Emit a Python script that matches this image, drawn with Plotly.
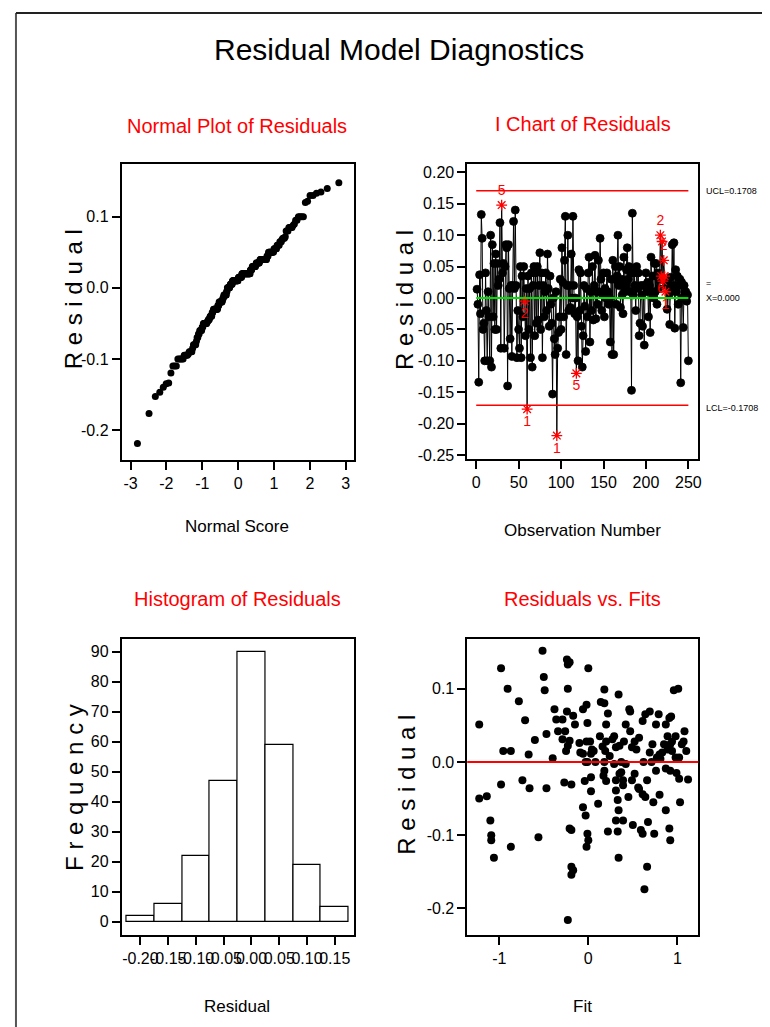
import plotly.graph_objects as go
from statistics import NormalDist

W, H = 770, 1027

# ---------------- data ----------------
# I-chart residuals in observation order
residuals = [
    0.014, -0.01, -0.134, 0.037, -0.025, 0.133, 0.095, -0.05, -0.04, -0.10,
    0.04, -0.02, -0.10, 0.01, -0.03, -0.10, 0.10, -0.11, 0.085, -0.03,
    0.055, -0.05, 0.07, -0.05, 0.055, 0.02, 0.03, 0.12, -0.08, 0.148,
    0.04, 0.055, -0.08, 0.05, 0.085, 0.08, -0.14, 0.085, 0.015, -0.065,
    0.02, -0.093, 0.02, 0.122, 0.015, 0.14, 0.02, -0.095, -0.02, -0.05,
    -0.08, 0.05, -0.095, 0.035, -0.03, 0.05, -0.005, -0.06, 0.015, -0.177,
    0.035, -0.05, 0.015, -0.095, 0.04, -0.11, 0.02, 0.05, -0.06, 0.04,
    -0.04, 0.05, -0.035, 0.02, 0.072, -0.05, 0.04, -0.095, 0.02, -0.03,
    0.01, 0.04, -0.02, 0.07, 0.015, -0.045, 0.035, -0.01, -0.04, -0.153,
    0.0, -0.065, -0.09, 0.01, -0.219, -0.08, -0.055, -0.03, 0.03, -0.05,
    0.08, 0.025, -0.03, 0.06, 0.13, -0.09, 0.02, 0.10, -0.02, 0.02,
    -0.015, 0.07, 0.0, 0.13, 0.02, -0.025, 0.0, -0.12, -0.03, -0.10,
    0.045, -0.02, 0.04, -0.045, -0.11, -0.06, 0.02, -0.013, -0.085, 0.015,
    -0.03, 0.04, 0.065, -0.07, 0.01, -0.02, 0.05, -0.035, 0.02, 0.068,
    -0.033, 0.01, -0.01, 0.06, 0.01, 0.095, 0.03, -0.02, 0.005, 0.04,
    -0.03, 0.015, 0.0, 0.04, 0.01, -0.01, 0.0, -0.07, 0.03, -0.09,
    0.06, -0.09, 0.03, 0.05, -0.01, 0.035, 0.10, 0.02, 0.05, -0.015,
    0.03, 0.005, -0.025, 0.065, 0.01, 0.02, 0.045, 0.08, 0.03, 0.05,
    0.01, 0.04, -0.147, 0.135, 0.005, 0.04, 0.02, -0.02, 0.05, 0.015,
    0.04, -0.06, -0.04, 0.02, 0.005, -0.045, 0.02, -0.075, 0.02, 0.04,
    0.01, 0.025, -0.03, 0.02, -0.055, 0.065, 0.01, 0.035, 0.0, 0.055,
    0.01, 0.055, -0.01, 0.04, 0.015, 0.03, 0.10, 0.035, 0.09, 0.027,
    0.06, 0.035, 0.01, 0.02, -0.018, 0.025, 0.005, -0.042, 0.033, 0.01,
    0.085, 0.02, 0.088, -0.048, 0.045, 0.01, 0.035, -0.01, 0.02, 0.03,
    -0.135, 0.025, 0.0, -0.047, 0.02, 0.003, 0.01, -0.005, 0.005, -0.10,
]
obs_numbers = list(range(1, len(residuals) + 1))

# control limits
ucl, center, lcl = 0.1708, 0.0, -0.1708

# points failing tests (observation, test number)
flag_above_obs = [30, 217, 221]
flag_above_lbl = ["5", "2", "2"]
flag_below_obs = [57, 60, 95, 118, 218, 223]
flag_below_lbl = ["2", "1", "1", "5", "6", "1"]
flag_plain_obs = [219, 220, 222]

# histogram (bin midpoints and frequencies)
hist_mid = [-0.20, -0.15, -0.10, -0.05, 0.00, 0.05, 0.10, 0.15]
hist_freq = [2, 6, 22, 47, 90, 59, 19, 5]
hist_ticktext = ["-0.20", "-0.15", "-0.10", "-0.05", "0.00", "0.05", "0.10", "0.15"]

# residuals vs fits
fit_vals = [
    -0.514, -0.98, -0.906, -0.78, -0.50, -0.49, -1.225, -0.71, -0.955, -0.87,
    -0.67, -0.60, -0.47, -0.40, -0.98, -0.74, -0.66, -0.47, -1.225, -1.14,
    -1.10, -1.09, -1.09, -1.06, -0.87, -0.56, -0.38, -0.36, -0.34, -0.29,
    -0.29, -0.26, -0.24, -0.23, -0.21, -0.23, -0.24, -0.23, -0.25, -0.17,
    -0.15, -0.27, -0.19, -0.21, -0.19, -0.19, -0.17, -0.19, -0.23, -0.10,
    -0.09, -0.06, -0.02, -0.01, -0.02, -0.03, -0.04, -0.06, -0.03, -0.02,
    0.0, 0.0, 0.02, 0.04, 0.03, 0.03, 0.11, 0.13, 0.14, 0.18,
    0.18, 0.16, 0.18, 0.18, 0.20, 0.22, 0.19, 0.20, 0.22, 0.29,
    0.29, 0.31, 0.31, 0.31, 0.33, 0.34, 0.34, 0.34, 0.33, 0.35,
    0.37, 0.39, 0.39, 0.40, 0.39, 0.42, 0.45, 0.46, 0.47, 0.49,
    0.50, 0.52, 0.54, 0.56, 0.57, 0.59, 0.61, 0.61, 0.62, 0.64,
    0.64, 0.63, 0.66, 0.67, 0.66, 0.69, 0.72, 0.73, 0.74, 0.76,
    0.77, 0.76, 0.79, 0.80, 0.81, 0.85, 0.87, 0.87, 0.89, 0.91,
    0.92, 0.93, 0.91, 0.92, 0.94, 0.96, 0.98, 0.99, 1.01, 1.02,
    1.03, 1.05, 1.07, 1.08, 1.10, 1.12, 1.02, 0.47, 0.61, 0.69,
    0.89, 0.92, 0.20, 0.24, 0.27, 0.06, 0.08, 0.42, 0.37, 0.57,
    0.71, 0.80, 0.83, 0.98, 0.94, 0.87, 0.35, 0.52, 0.49, 0.17,
    0.31, -0.21, -0.06, 0.03, -0.01, -0.01,
]
fit_resid = [
    0.152, 0.128, 0.10, 0.083, 0.116, 0.098, 0.051, 0.057, 0.015, 0.015,
    0.010, 0.030, 0.038, 0.005, -0.031, -0.025, -0.036, -0.036, -0.05, -0.047,
    -0.08, -0.107, -0.10, -0.131, -0.116, -0.103, 0.072, 0.058, 0.042, 0.058,
    0.031, 0.042, 0.14, 0.133, 0.136, 0.10, 0.069, 0.022, 0.015, 0.063,
    0.051, -0.028, -0.031, -0.091, -0.093, -0.143, -0.148, -0.154, -0.216, 0.026,
    0.013, 0.072, 0.078, 0.053, 0.028, 0.0, -0.026, -0.062, -0.073, -0.116,
    -0.107, 0.128, 0.028, 0.017, -0.021, -0.04, -0.057, 0.035, 0.082, 0.099,
    0.08, 0.021, 0.0, -0.012, 0.051, 0.066, 0.015, -0.026, -0.095, -0.003,
    0.035, 0.02, -0.039, -0.08, -0.052, 0.092, -0.066, -0.131, -0.095, 0.022,
    -0.014, -0.08, -0.032, 0.028, -0.025, -0.003, -0.048, 0.072, 0.042, 0.02,
    -0.086, 0.028, 0.017, -0.035, -0.037, -0.093, -0.098, -0.044, 0.0, 0.065,
    -0.048, -0.174, -0.143, -0.082, -0.025, 0.013, 0.024, -0.055, -0.098, -0.012,
    0.006, 0.051, 0.065, -0.045, 0.004, 0.024, -0.066, 0.051, 0.017, 0.06,
    -0.012, 0.062, -0.091, -0.107, 0.028, 0.098, 0.006, -0.015, 0.10, 0.006,
    -0.055, 0.024, 0.028, 0.042, 0.015, -0.024, -0.023, 0.069, 0.056, 0.069,
    0.035, 0.024, 0.028, 0.008, 0.031, 0.015, 0.0, 0.051, 0.0, 0.033,
    0.0, 0.01, 0.013, 0.035, 0.015, -0.009, -0.016, -0.016, -0.025, -0.019,
    -0.025, 0.029, 0.011, 0.011, 0.0, -0.098,
]

# normal probability plot: ordered residuals vs normal scores
n = len(residuals)
sorted_resid = sorted(residuals)
normal_scores = [NormalDist().inv_cdf((i - 0.375) / (n + 0.25)) for i in range(1, n + 1)]

# ---------------- layout helpers ----------------
FONT = "Liberation Sans Narrow, Arial Narrow, Liberation Sans, Arial, sans-serif"
RED = "#ff0000"


def px_x(x):
    return x / W


def px_y(y):
    return 1 - y / H


def dom_x(a, b):
    return [px_x(a), px_x(b)]


def dom_y(top, bottom):
    return [px_y(bottom), px_y(top)]


axis_common = dict(
    showline=True, mirror=True, linecolor="black", linewidth=1.5,
    ticks="outside", ticklen=8, tickwidth=1.5, tickcolor="black",
    showgrid=False, zeroline=False,
    tickfont=dict(family=FONT, size=16, color="black"),
    tickangle=0,
)

flagged = set(flag_above_obs + flag_below_obs + flag_plain_obs)
main_sizes = [0 if o in flagged else 8 for o in obs_numbers]

fig = go.Figure()

# Normal plot
fig.add_trace(go.Scatter(
    x=normal_scores, y=sorted_resid, mode="markers",
    marker=dict(color="black", size=7), xaxis="x", yaxis="y", showlegend=False,
))

# I chart
fig.add_trace(go.Scatter(
    x=obs_numbers, y=residuals, mode="lines+markers",
    line=dict(color="black", width=1),
    marker=dict(color="black", size=main_sizes, opacity=1, line=dict(color="black", width=0.8)),
    xaxis="x2", yaxis="y2", showlegend=False,
))
flag_marker = dict(symbol="asterisk-open", color=RED, size=9, line=dict(color=RED, width=1.3))
fig.add_trace(go.Scatter(
    x=flag_above_obs, y=[residuals[o - 1] for o in flag_above_obs],
    mode="markers+text", text=flag_above_lbl, textposition="top center",
    textfont=dict(family=FONT, size=14, color=RED), marker=flag_marker,
    xaxis="x2", yaxis="y2", showlegend=False,
))
fig.add_trace(go.Scatter(
    x=flag_below_obs, y=[residuals[o - 1] for o in flag_below_obs],
    mode="markers+text", text=flag_below_lbl, textposition="bottom center",
    textfont=dict(family=FONT, size=14, color=RED), marker=flag_marker,
    xaxis="x2", yaxis="y2", showlegend=False,
))
fig.add_trace(go.Scatter(
    x=flag_plain_obs, y=[residuals[o - 1] for o in flag_plain_obs],
    mode="markers", marker=flag_marker,
    xaxis="x2", yaxis="y2", showlegend=False,
))

# Histogram
fig.add_trace(go.Bar(
    x=hist_mid, y=hist_freq, width=0.05,
    marker=dict(color="white", line=dict(color="black", width=1.2)),
    xaxis="x3", yaxis="y3", showlegend=False,
))

# Residuals vs fits
fig.add_trace(go.Scatter(
    x=fit_vals, y=fit_resid, mode="markers",
    marker=dict(color="black", size=8), xaxis="x4", yaxis="y4", showlegend=False,
))

fig.update_layout(
    width=W, height=H, margin=dict(l=0, r=0, t=0, b=0),
    paper_bgcolor="white", plot_bgcolor="white",
    font=dict(family=FONT, color="black"),
    xaxis=dict(axis_common, domain=dom_x(114, 347), range=[-3.25, 3.22],
               tickvals=[-3, -2, -1, 0, 1, 2, 3], ticktext=["-3", "-2", "-1", "0", "1", "2", "3"],
               anchor="y"),
    yaxis=dict(axis_common, domain=dom_y(157, 454), range=[-0.242, 0.174],
               tickvals=[-0.2, -0.1, 0.0, 0.1], ticktext=["-0.2", "-0.1", "0.0", "0.1"],
               anchor="x"),
    xaxis2=dict(axis_common, domain=dom_x(461, 693), range=[-10.6, 261.7],
                tickvals=[0, 50, 100, 150, 200, 250], anchor="y2"),
    yaxis2=dict(axis_common, domain=dom_y(157, 453), range=[-0.256, 0.213],
                tickvals=[-0.25, -0.2, -0.15, -0.1, -0.05, 0.0, 0.05, 0.1, 0.15, 0.2],
                ticktext=["-0.25", "-0.20", "-0.15", "-0.10", "-0.05", "0.00",
                          "0.05", "0.10", "0.15", "0.20"],
                anchor="x2"),
    xaxis3=dict(axis_common, domain=dom_x(114, 347), range=[-0.234, 0.184],
                tickvals=hist_mid, ticktext=hist_ticktext, anchor="y3"),
    yaxis3=dict(axis_common, domain=dom_y(634, 932), range=[-4.65, 94.3],
                tickvals=[0, 10, 20, 30, 40, 50, 60, 70, 80, 90], anchor="x3"),
    xaxis4=dict(axis_common, domain=dom_x(461, 693), range=[-1.36, 1.235],
                tickvals=[-1, 0, 1], ticktext=["-1", "0", "1"], anchor="y4"),
    yaxis4=dict(axis_common, domain=dom_y(634, 932), range=[-0.237, 0.168],
                tickvals=[-0.2, -0.1, 0.0, 0.1], ticktext=["-0.2", "-0.1", "0.0", "0.1"],
                anchor="x4"),
    bargap=0,
)

shapes = [
    # page frame
    dict(type="line", xref="paper", yref="paper", x0=px_x(8), x1=px_x(8), y0=0, y1=px_y(5),
         line=dict(color="#555555", width=2)),
    dict(type="line", xref="paper", yref="paper", x0=px_x(8), x1=px_x(761), y0=px_y(5), y1=px_y(5),
         line=dict(color="#222222", width=2)),
    # control limits
    dict(type="line", xref="x2", yref="y2", x0=0, x1=250, y0=ucl, y1=ucl, line=dict(color=RED, width=1.5)),
    dict(type="line", xref="x2", yref="y2", x0=0, x1=250, y0=lcl, y1=lcl, line=dict(color=RED, width=1.5)),
    dict(type="line", xref="x2", yref="y2", x0=0, x1=250, y0=center, y1=center, line=dict(color="#00e000", width=2)),
    # zero line in residuals vs fits
    dict(type="line", xref="x4 domain", yref="y4", x0=0, x1=1, y0=0, y1=0, line=dict(color=RED, width=2)),
]
fig.update_layout(shapes=shapes)

ann = []


def text(x, y, s, size, color="black", angle=0, xanchor="center"):
    ann.append(dict(x=px_x(x), y=px_y(y), xref="paper", yref="paper", text=s, showarrow=False,
                    font=dict(family=FONT, size=size, color=color), textangle=angle,
                    xanchor=xanchor, yanchor="middle"))


text(393, 42, "Residual Model Diagnostics", 30)
text(230, 119, "Normal Plot of Residuals", 20, RED)
text(577, 117, "I Chart of Residuals", 20, RED)
text(230, 594, "Histogram of Residuals", 20, RED)
text(577, 594, "Residuals vs. Fits", 20, RED)

text(230, 521, "Normal Score", 17)
text(577, 525, "Observation Number", 17)
text(230, 1003, "Residual", 17)
text(577, 1003, "Fit", 17)

text(66, 293, "R e s i d u a l", 24, angle=-90)
text(398, 293, "R e s i d u a l", 24, angle=-90)
text(66, 783, "F r e q u e n c y", 24, angle=-90)
text(400, 780, "R e s i d u a l", 24, angle=-90)

text(699, 184, "UCL=0.1708", 9, xanchor="left")
text(699, 276, "=", 9, xanchor="left")
text(699, 291, "X=0.000", 9, xanchor="left")
text(699, 402, "LCL=-0.1708", 9, xanchor="left")

fig.update_layout(annotations=ann)

fig.write_html("out.html")
